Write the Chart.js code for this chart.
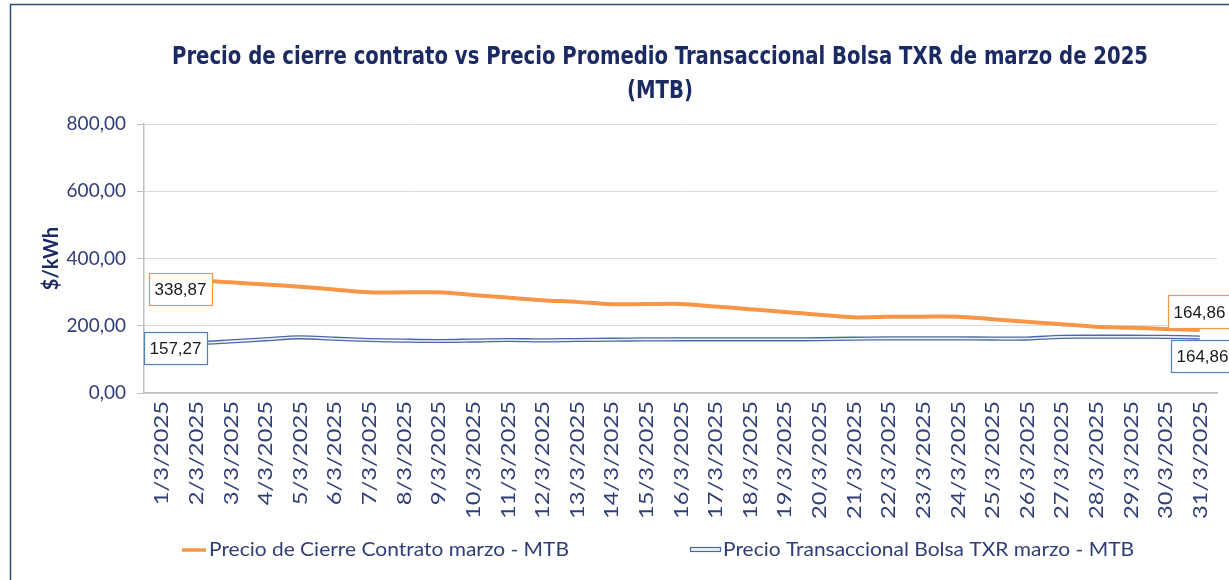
<!DOCTYPE html>
<html><head><meta charset="utf-8">
<script src="https://cdn.jsdelivr.net/npm/chart.js@4.4.1/dist/chart.umd.min.js"></script>
<style>html,body{margin:0;padding:0;background:#fff;}canvas{display:block;}</style>
</head><body>
<canvas id="c" width="1229" height="580"></canvas>
<script>
const categories = ['1/3/2025','2/3/2025','3/3/2025','4/3/2025','5/3/2025','6/3/2025','7/3/2025','8/3/2025','9/3/2025','10/3/2025','11/3/2025','12/3/2025','13/3/2025','14/3/2025','15/3/2025','16/3/2025','17/3/2025','18/3/2025','19/3/2025','20/3/2025','21/3/2025','22/3/2025','23/3/2025','24/3/2025','25/3/2025','26/3/2025','27/3/2025','28/3/2025','29/3/2025','30/3/2025','31/3/2025'];
const contractPrices = [338.87,335.5,329.2,322.7,316,307.8,299.5,299.5,299.5,291.5,283.7,276,271,264,264.5,265,257.3,249.2,241.2,233,225,227,227,227,219.5,212,204.6,197,194,190.6,187.4];
const bolsaPrices = [157.27,148.7,153.5,159.7,165.6,161.5,157.6,155.8,154.6,156,157.6,156.5,157.6,158.5,159.4,159.7,159.7,159.7,159.7,160,161.5,162.5,162.5,162.5,162,162,167,167.4,167.4,167,164.86];
const seriesNames = ['Precio de Cierre Contrato marzo - MTB','Precio Transaccional Bolsa TXR marzo - MTB'];
const contractEndLabels = ['338,87','164,86'];
const bolsaEndLabels = ['157,27','164,86'];
const yTicks = [0,200,400,600,800];
const titleLines = ['Precio de cierre contrato vs Precio Promedio Transaccional Bolsa TXR de marzo de 2025','(MTB)'];
const yTitle = '$/kWh';

const NAVY = '#1B2A63';
const TICK = '#2F3D78';
const ORANGE = '#F79646';
const BLUE_DARK = '#4A6AA5';
const BLUE_LIGHT = '#EEF2F9';

function fittedText(ctx, text, targetWidth) {
  const w = ctx.measureText(text).width;
  return targetWidth / w;
}

const framePlugin = {
  id: 'frame',
  beforeDraw(chart) {
    const ctx = chart.ctx;
    ctx.save();
    ctx.fillStyle = '#fff';
    ctx.fillRect(0, 0, chart.width, chart.height);
    ctx.strokeStyle = '#2E4D7B';
    ctx.lineWidth = 1.5;
    ctx.strokeRect(10.5, 4.5, 1400, 800);
    // title
    ctx.fillStyle = NAVY;
    ctx.font = 'bold 25px "DejaVu Sans Condensed", "DejaVu Sans", sans-serif';
    ctx.textAlign = 'center';
    ctx.textBaseline = 'middle';
    const k = fittedText(ctx, titleLines[0], 976);
    titleLines.forEach((line, i) => {
      ctx.save();
      ctx.translate(660, 57 + i * 34);
      ctx.scale(k, 1);
      ctx.fillText(line, 0, 0);
      ctx.restore();
    });
    ctx.restore();
  }
};

const xLabelPlugin = {
  id: 'xLabels',
  afterDraw(chart) {
    const ctx = chart.ctx;
    const xs = chart.scales.x;
    ctx.save();
    ctx.fillStyle = TICK;
    ctx.font = '19px Lato, "Open Sans", sans-serif';
    const k = fittedText(ctx, '10/3/2025', 118);
    ctx.textAlign = 'right';
    ctx.textBaseline = 'middle';
    const top = chart.chartArea.bottom + 8;
    categories.forEach((lab, i) => {
      const x = xs.getPixelForValue(i);
      ctx.save();
      ctx.translate(x, top);
      ctx.rotate(-Math.PI / 2);
      ctx.scale(k, 1);
      ctx.fillText(lab, 0, 1);
      ctx.restore();
    });
    ctx.restore();
  }
};

const labelPlugin = {
  id: 'endLabels',
  afterDatasetsDraw(chart) {
    const ctx = chart.ctx;
    const last = categories.length - 1;
    const specs = [
      {ds: 0, idx: 0, text: contractEndLabels[0], color: ORANGE, dx: -12.3, dy: -6.4, w: 63, h: 32},
      {ds: 2, idx: 0, text: bolsaEndLabels[0], color: '#4F81BD', dx: -17.3, dy: -8.4, w: 63, h: 32},
      {ds: 0, idx: last, text: contractEndLabels[1], color: ORANGE, dx: -31.7, dy: -35, w: 63, h: 33},
      {ds: 2, idx: last, text: bolsaEndLabels[1], color: '#4F81BD', dx: -28.7, dy: 2.4, w: 63, h: 32}
    ];
    ctx.save();
    specs.forEach(s => {
      const pt = chart.getDatasetMeta(s.ds).data[s.idx];
      const x = Math.round(pt.x + s.dx) + 0.5;
      const y = Math.round(pt.y + s.dy) + 0.5;
      ctx.fillStyle = '#fff';
      ctx.fillRect(x, y, s.w, s.h);
      ctx.strokeStyle = s.color;
      ctx.lineWidth = 1.2;
      ctx.strokeRect(x, y, s.w, s.h);
      ctx.fillStyle = '#1a1a1a';
      ctx.font = '17px "Liberation Sans", Arial, sans-serif';
      ctx.textBaseline = 'middle';
      ctx.textAlign = 'left';
      ctx.fillText(s.text, x + 5, y + s.h / 2 + 1);
    });
    ctx.restore();
  }
};

const legendPlugin = {
  id: 'customLegend',
  afterDraw(chart) {
    const ctx = chart.ctx;
    const ly = 550;
    ctx.save();
    ctx.font = '19px Lato, "Open Sans", sans-serif';
    ctx.fillStyle = TICK;
    ctx.textBaseline = 'middle';
    ctx.textAlign = 'left';
    const k = fittedText(ctx, seriesNames[0], 360);
    // series 1
    ctx.strokeStyle = ORANGE;
    ctx.lineWidth = 3.5;
    ctx.beginPath(); ctx.moveTo(182, ly); ctx.lineTo(206, ly); ctx.stroke();
    ctx.save(); ctx.translate(209, ly); ctx.scale(k, 1); ctx.fillText(chart.data.datasets[0].label, 0, 0); ctx.restore();
    // series 2
    ctx.fillStyle = BLUE_LIGHT;
    ctx.fillRect(690.5, ly - 2.5, 30, 4);
    ctx.strokeStyle = BLUE_DARK;
    ctx.lineWidth = 1.2;
    ctx.strokeRect(690.5, ly - 2.5, 30, 4);
    ctx.fillStyle = TICK;
    ctx.save(); ctx.translate(723, ly); ctx.scale(k, 1); ctx.fillText(chart.data.datasets[2].label, 0, 0); ctx.restore();
    ctx.restore();
  }
};

new Chart(document.getElementById('c'), {
  type: 'line',
  data: {
    labels: categories,
    datasets: [
      {label: seriesNames[0], data: contractPrices, borderColor: ORANGE, borderWidth: 4, pointRadius: 0, tension: 0.3, fill: false},
      {label: 'inner', data: bolsaPrices, borderColor: BLUE_LIGHT, borderWidth: 1.6, pointRadius: 0, tension: 0.3, fill: false},
      {label: seriesNames[1], data: bolsaPrices, borderColor: BLUE_DARK, borderWidth: 4.2, pointRadius: 0, tension: 0.3, fill: false}
    ]
  },
  options: {
    responsive: false,
    animation: false,
    events: [],
    layout: {padding: {left: 0, right: 12, top: 124, bottom: 57}},
    plugins: {
      legend: {display: false},
      tooltip: {enabled: false},
      title: {display: false}
    },
    scales: {
      x: {
        offset: true,
        grid: {display: false, drawTicks: false},
        border: {display: true, color: '#BFBFBF', width: 1.5},
        ticks: {display: false, autoSkip: false},
        afterFit(s) { s.height = 130; }
      },
      y: {
        min: 0, max: 800,
        afterBuildTicks(s) { s.ticks = yTicks.map(v => ({value: v})); },
        grid: {color: '#D9D9D9', tickLength: 7, tickColor: '#BFBFBF'},
        border: {display: true, color: '#BFBFBF', width: 1.5},
        ticks: {padding: 11, color: TICK, font: {family: 'Lato, "Open Sans", sans-serif', size: 19},
          callback: v => v.toFixed(2).replace('.', ',')},
        title: {display: true, text: yTitle, color: NAVY, font: {family: 'Lato, "Open Sans", sans-serif', size: 20, weight: 'bold', lineHeight: 1.2}, padding: {top: 40, bottom: 0}},
        afterFit(s) { s.width = 144; }
      }
    }
  },
  plugins: [framePlugin, labelPlugin, xLabelPlugin, legendPlugin]
});
</script>
</body></html>
